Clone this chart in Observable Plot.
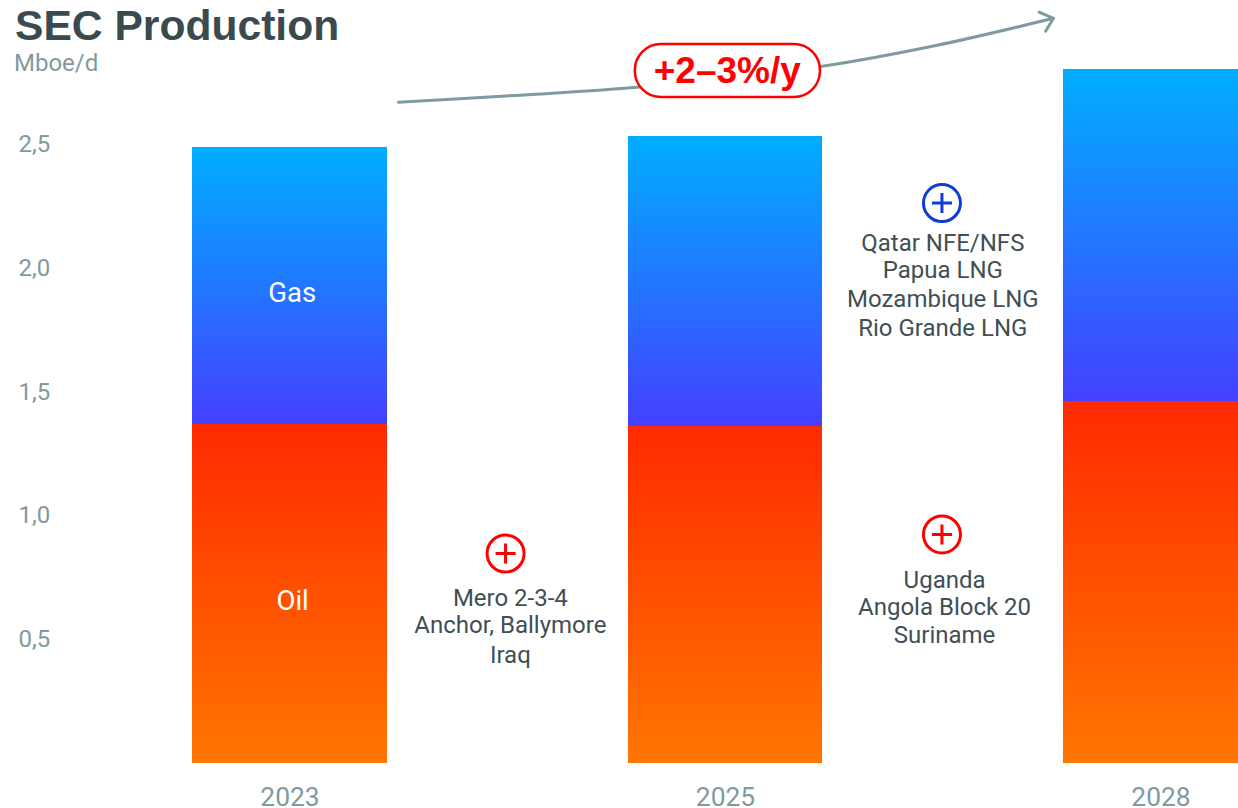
<!DOCTYPE html>
<html>
<head>
<meta charset="utf-8">
<script src="https://cdn.jsdelivr.net/npm/d3@7"></script>
<script src="https://cdn.jsdelivr.net/npm/@observablehq/plot@0.6"></script>
<style>
  html, body { margin: 0; padding: 0; background: #fff; overflow: hidden; }
  #page { position: relative; width: 1238px; height: 808px; }
  #title {
    position: absolute; left: 15px; top: 1px; margin: 0;
    font: bold 42.6px/48px "Liberation Sans", sans-serif; color: #3a4a4e;
  }
  #unit {
    position: absolute; left: 14px; top: 49px;
    font: 24px/28px Roboto, sans-serif; color: #7f9aa0;
  }
  svg { display: block; }
</style>
</head>
<body>
<div id="page">
  <h1 id="title">SEC Production</h1>
  <div id="unit">Mboe/d</div>
</div>
<script>
// Production by year, Mboe/d
const years = ["2023", "2025", "2028"];
const oil = [1.37, 1.36, 1.46];
const gas = [1.12, 1.175, 1.345];
const yTicks = [0.5, 1, 1.5, 2, 2.5];

// Growth trend curve, in year-slot / Mboe/d coordinates
const trendSlot = [0.249, 0.516, 0.803, 1.218, 1.486, 1.753];
const trendValue = [2.672, 2.699, 2.733, 2.816, 2.902, 3.011];
const headSlot = [1.72, 1.753, 1.735];
const headValue = [3.036, 3.011, 2.959];

// Projects contributing to growth between the years
const projectLabels = [
  "Mero 2-3-4", "Anchor, Ballymore", "Iraq",
  "Qatar NFE/NFS", "Papua LNG", "Mozambique LNG", "Rio Grande LNG",
  "Uganda", "Angola Block 20", "Suriname"
];
const projectSlots = [0.506, 0.506, 0.506, 1.499, 1.499, 1.499, 1.499, 1.503, 1.503, 1.503];
const projectValues = [0.665, 0.556, 0.435, 2.101, 1.991, 1.874, 1.757, 0.738, 0.629, 0.516];

const plusSlots = [0.495, 1.497, 1.497];
const plusValues = [0.847, 2.264, 0.924];
const plusColors = ["#ff0000", "#0b3bdc", "#ff0000"];

const barHalf = 0.2235;
const segments = years.flatMap((year, i) => [
  {slot: i, fuel: "oil", low: 0, high: oil[i]},
  {slot: i, fuel: "gas", low: oil[i], high: oil[i] + gas[i]}
]);

// Vertical gradients shared by the bar segments
function gradients() {
  const defs = d3.create("svg:defs");
  const add = (id, top, bottom) => {
    const g = defs.append("linearGradient").attr("id", id)
      .attr("x1", 0).attr("y1", 0).attr("x2", 0).attr("y2", 1);
    g.append("stop").attr("offset", 0).attr("stop-color", top);
    g.append("stop").attr("offset", 1).attr("stop-color", bottom);
  };
  add("gasFill", "#00aeff", "#4440ff");
  add("oilFill", "#ff2a00", "#ff7600");
  return defs.node();
}

const grey = "#7f9aa0";
const dark = "#3f4f54";
const tf = d => d3.format(".1f")(d).replace(".", ",");
const badges = plusSlots.map((s, i) => ({s, v: plusValues[i], c: plusColors[i]}));

const barMark = (fuel, fill) => Plot.rect(segments.filter(d => d.fuel === fuel), {
  x1: d => d.slot - barHalf, x2: d => d.slot + barHalf,
  y1: "low", y2: "high", fill, shapeRendering: "crispEdges"
});

const chart = Plot.plot({
  width: 1238,
  height: 808,
  marginTop: 0,
  marginLeft: 0,
  marginRight: 0,
  marginBottom: 45.5,
  style: {background: "transparent", fontFamily: "Roboto, sans-serif"},
  x: {domain: [-0.6647, 2.1779]},
  y: {domain: [0, 3.083]},
  marks: [
    gradients,
    barMark("oil", "url(#oilFill)"),
    barMark("gas", "url(#gasFill)"),
    Plot.axisY({
      ticks: yTicks, tickFormat: tf, tickSize: 0, tickPadding: 0,
      textAnchor: "start", dx: 18, fontSize: 24, color: grey, label: null
    }),
    Plot.axisX({
      ticks: [0, 1, 2], tickFormat: i => years[i], tickSize: 0, tickPadding: 24,
      fontSize: 26.4, color: grey, label: null
    }),
    Plot.text(["Gas", "Oil"], {
      x: [0.005, 0.006], y: [1.898, 0.653],
      text: d => d, fill: "#fff", fontSize: 27.5
    }),
    // Growth trend arrow
    Plot.line(trendSlot.map((s, i) => [s, trendValue[i]]), {
      x: "0", y: "1", curve: "catmull-rom", stroke: "#7f9aa0", strokeWidth: 3
    }),
    Plot.line(headSlot.map((s, i) => [s, headValue[i]]), {
      x: "0", y: "1", stroke: "#7f9aa0", strokeWidth: 3
    }),
    // Growth rate pill
    Plot.rect([{}], {
      x1: () => 0.793, x2: () => 1.218, y1: () => 2.691, y2: () => 2.905,
      rx: 26, fill: "#fff", stroke: "#ff0000", strokeWidth: 2.5
    }),
    Plot.text(["+2–3%/y"], {
      x: () => 1.004, y: () => 2.797, text: d => d, fill: "#ff0000",
      fontFamily: "Liberation Sans, sans-serif", fontWeight: "bold", fontSize: 37
    }),
    // Plus badges above the project lists
    Plot.dot(badges, {x: "s", y: "v", r: 18.5, stroke: "c", strokeWidth: 3, fill: "#fff"}),
    Plot.dot(badges, {x: "s", y: "v", r: 6.5, symbol: "plus", stroke: "c", strokeWidth: 3}),
    Plot.text(projectLabels, {
      x: projectSlots, y: projectValues, text: d => d,
      fill: dark, fontSize: 24
    })
  ]
});
document.getElementById("page").prepend(chart);
document.getElementById("title").style.zIndex = 2;
</script>
</body>
</html>
